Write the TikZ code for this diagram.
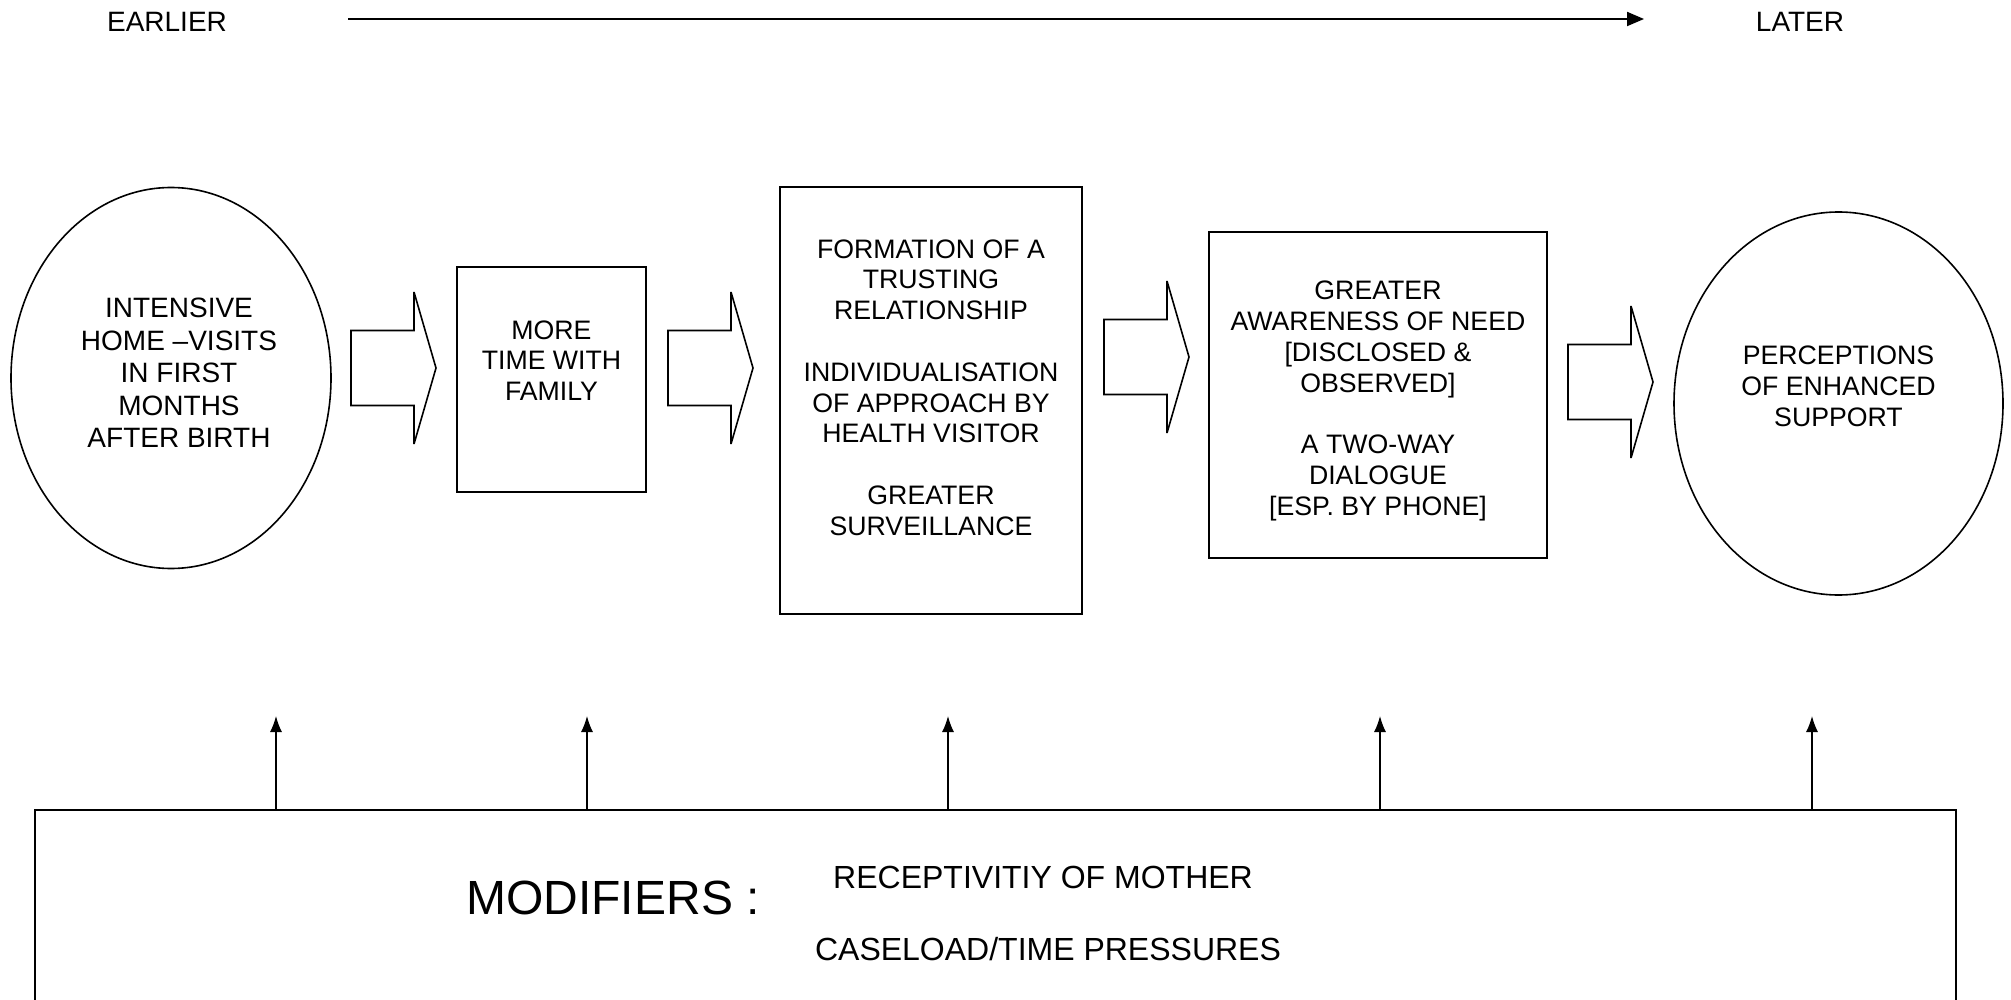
\documentclass[tikz,border=0pt]{standalone}
\usepackage{fontspec}
\setmainfont{Liberation Sans}
\usetikzlibrary{shapes.geometric,arrows.meta}
\begin{document}
\begin{tikzpicture}[x=1pt,y=-1pt,
  every node/.style={inner sep=0pt, outer sep=0pt},
  shapebox/.style={draw, line width=1.6pt, rectangle},
  oval/.style={draw, line width=1.6pt, ellipse},
  txt/.style={align=center, font=\fontsize{26.7pt}{30.8pt}\selectfont},
  bigtxt/.style={align=center, font=\fontsize{28pt}{32.4pt}\selectfont},
  modtxt/.style={font=\fontsize{32pt}{37pt}\selectfont},
  blockarrow/.pic={\draw[line width=1.6pt, line join=miter, miter limit=2]
     (0,-37.5) -- (63,-37.5) -- (63,-76) -- (85,0) -- (63,76) -- (63,37.5) -- (0,37.5) -- cycle;},
  modarrow/.style={line width=1.3pt, -{Latex[length=16pt,width=12pt]}},
]
\path[use as bounding box, clip] (0,0) rectangle (2011,1000);

% time line
\node[bigtxt] (earlier) at (167,22) {EARLIER};
\node[bigtxt] (later) at (1800,22) {LATER};
\coordinate (ta) at (348,19);
\coordinate (tb) at (1644,19);
\draw[line width=2pt, -{Triangle[length=17pt,width=14pt]}] (ta) -- (tb);

% stages
\node[oval, minimum width=320pt, minimum height=381pt,
  label={[bigtxt, name=t1, xshift=8pt, yshift=5pt]center:{INTENSIVE\\HOME –VISITS\\IN FIRST\\MONTHS\\AFTER BIRTH}}]
  (e1) at (171,378) {};

\node[shapebox, minimum width=189pt, minimum height=225pt,
  label={[txt, name=t2, yshift=19pt]center:{MORE\\TIME WITH\\FAMILY}}]
  (b2) at (551.5,379.5) {};

\node[shapebox, minimum width=302pt, minimum height=427pt,
  label={[txt, name=t3, yshift=13pt]center:{FORMATION OF A\\TRUSTING\\RELATIONSHIP\\[30.8pt]INDIVIDUALISATION\\OF APPROACH BY\\HEALTH VISITOR\\[30.8pt]GREATER\\SURVEILLANCE}}]
  (b3) at (931,400.5) {};

\node[shapebox, minimum width=338pt, minimum height=326pt,
  label={[txt, name=t4, yshift=-6pt]center:{GREATER\\AWARENESS OF NEED\\{[DISCLOSED \&}\\OBSERVED]\\[30.8pt]A TWO-WAY\\DIALOGUE\\{[ESP. BY PHONE]}}}]
  (b4) at (1378,395) {};

\node[oval, minimum width=329pt, minimum height=383pt,
  label={[txt, name=t5, yshift=17pt]center:{PERCEPTIONS\\OF ENHANCED\\SUPPORT}}]
  (e2) at (1838.5,403.5) {};

% block arrows
\pic (a1) at (351,368) {blockarrow};
\pic (a2) at (668,368) {blockarrow};
\pic (a3) at (1104,357) {blockarrow};
\pic (a4) at (1568,382) {blockarrow};

% modifiers box
\node[shapebox, anchor=north west, minimum width=1921pt, minimum height=400pt] (mod) at (35,810) {};
\node[font=\fontsize{48pt}{55pt}\selectfont] (modl) at (613,898) {MODIFIERS :};
\node[modtxt] (r1) at (1043,877) {RECEPTIVITIY OF MOTHER};
\node[modtxt] (r2) at (1048,949) {CASELOAD/TIME PRESSURES};

% modifier arrows
\coordinate (m1) at (276,716);
\coordinate (m2) at (587,716);
\coordinate (m3) at (948,716);
\coordinate (m4) at (1380,716);
\coordinate (m5) at (1812,716);
\foreach \m in {m1,m2,m3,m4,m5}
  \draw[modarrow] (mod.north -| \m) -- (\m);
\end{tikzpicture}
\end{document}
